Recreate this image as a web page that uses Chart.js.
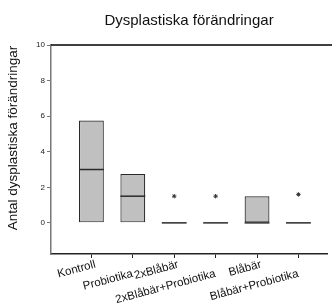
<!DOCTYPE html>
<html>
<head>
<meta charset="utf-8">
<script src="https://cdn.jsdelivr.net/npm/chart.js@4/dist/chart.umd.min.js"></script>
<style>
  html, body { margin: 0; padding: 0; background: #fff; }
  #wrap { width: 332px; height: 305px; }
</style>
</head>
<body>
<div id="wrap"><canvas id="dysChart"></canvas></div>
<script>
const groups = ['Kontroll', 'Probiotika', '2xBlåbär', '2xBlåbär+Probiotika', 'Blåbär', 'Blåbär+Probiotika'];
const boxLow = [0, 0, 0, 0, 0, 0];
const boxHigh = [5.75, 2.75, 0, 0, 1.5, 0];
const medians = [3, 1.5, 0, 0, 0, 0];
const stars = [null, null, 1.5, 1.5, null, 1.6];
const yTicks = [0, 2, 4, 6, 8, 10];

const titleText = 'Dysplastiska förändringar';
const yTitleText = 'Antal dysplastiska förändringar';

// title, y title, top frame line and median lines
const extras = {
  id: 'extras',
  afterDatasetsDraw(chart) {
    const ctx = chart.ctx;
    const area = chart.chartArea;
    const y = chart.scales.y;
    const meta = chart.getDatasetMeta(0);
    ctx.save();
    ctx.strokeStyle = '#2a2a2a';
    ctx.lineWidth = 1.5;
    meta.data.forEach((bar, i) => {
      const py = y.getPixelForValue(medians[i]);
      ctx.beginPath();
      ctx.moveTo(bar.x - bar.width / 2, py);
      ctx.lineTo(bar.x + bar.width / 2, py);
      ctx.stroke();
    });
    ctx.strokeStyle = '#000';
    ctx.beginPath();
    ctx.moveTo(area.left, area.top);
    ctx.lineTo(chart.width, area.top);
    ctx.stroke();

    ctx.fillStyle = '#111';
    ctx.font = '15px "Liberation Sans", Arial, sans-serif';
    ctx.textAlign = 'center';
    ctx.textBaseline = 'alphabetic';
    ctx.fillText(titleText, (area.left + area.right) / 2, 25);

    ctx.font = '13.5px "Liberation Sans", Arial, sans-serif';
    ctx.translate(13, 138);
    ctx.rotate(-Math.PI / 2);
    ctx.textBaseline = 'middle';
    ctx.fillText(yTitleText, 0, 0);
    ctx.restore();
  }
};

new Chart(document.getElementById('dysChart'), {
  data: {
    datasets: [
      {
        type: 'bar',
        data: groups.map((g, i) => ({ x: i, y: [boxLow[i], boxHigh[i]] })),
        backgroundColor: '#c0c0c0',
        borderColor: '#2a2a2a',
        borderWidth: 1.2,
        borderSkipped: false,
        barPercentage: 0.75,
        categoryPercentage: 0.8,
      },
      {
        type: 'line',
        data: groups.map((g, i) => ({ x: i, y: stars[i] })),
        showLine: false,
        pointStyle: 'star',
        pointRadius: 2.2,
        borderColor: '#333',
        borderWidth: 1,
      },
    ],
  },
  options: {
    responsive: true,
    maintainAspectRatio: false,
    animation: false,
    layout: { padding: { top: 45, right: 1, left: 0, bottom: 0 } },
    plugins: { legend: { display: false }, tooltip: { enabled: false } },
    scales: {
      x: {
        type: 'linear',
        offset: false,
        min: -0.976,
        max: 5.69,
        afterBuildTicks: (s) => { s.ticks = groups.map((g, i) => ({ value: i })); },
        afterFit: (s) => { s.height = 51; },
        grid: { display: true, offset: false, drawOnChartArea: false, drawTicks: true, tickLength: 4, color: '#222', lineWidth: 1 },
        border: { color: '#222', width: 1.5 },
        ticks: {
          autoSkip: false,
          minRotation: 15,
          maxRotation: 15,
          padding: 2.5,
          labelOffset: 4,
          color: '#111',
          font: { family: '"Liberation Sans", Arial, sans-serif', size: 11.5, lineHeight: 0.68 },
          // staggered: every second label one line lower, pulled back to its tick
          callback: (v) => (v % 2 ? ['', groups[v] + '  '] : groups[v]),
        },
      },
      y: {
        min: -1.75,
        max: 10,
        afterBuildTicks: (s) => { s.ticks = yTicks.map((v) => ({ value: v })); },
        afterFit: (s) => { s.width = 51; },
        grid: { display: true, drawOnChartArea: false, drawTicks: true, tickLength: 4, color: '#777' },
        border: { color: '#777', width: 1.5 },
        ticks: {
          padding: 2,
          color: '#222',
          font: { family: '"Liberation Sans", Arial, sans-serif', size: 8 },
        },
      },
    },
  },
  plugins: [extras],
});
</script>
</body>
</html>
